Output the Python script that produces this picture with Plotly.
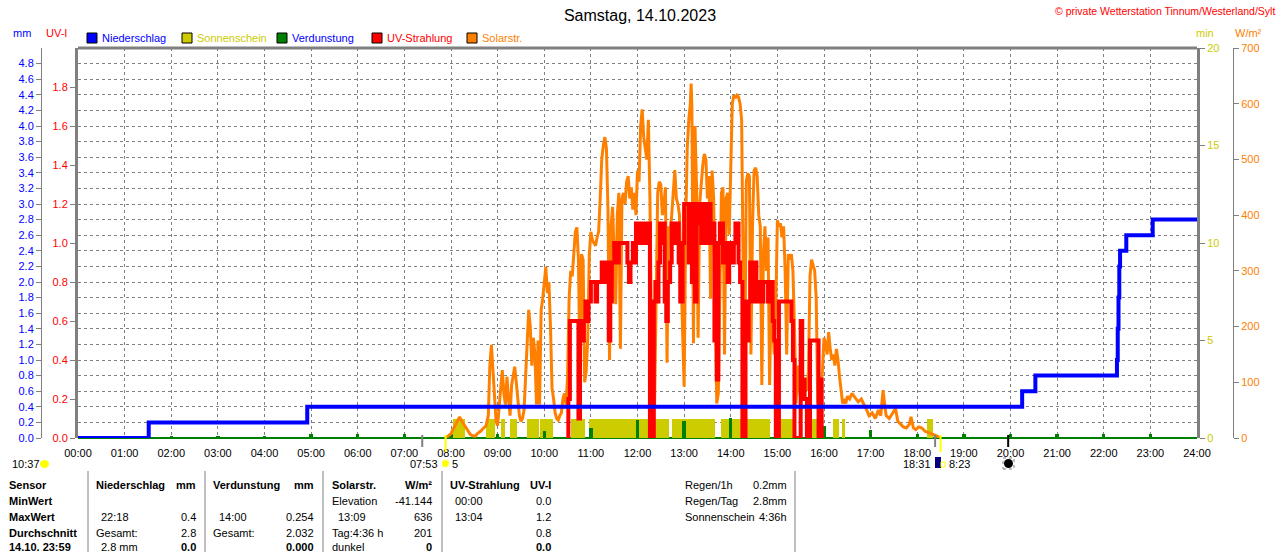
import plotly.graph_objects as go

W, H = 1280, 552
PLOT_L, PLOT_R, PLOT_T, PLOT_B = 78, 1197, 48, 438
FONT = "Liberation Sans, Arial, sans-serif"

BLUE = "#0000ff"
RED = "#ff0000"
ORANGE = "#ff8000"
SUN = "#cccc00"
GREEN = "#008000"
GRAY = "#808080"

# ---- data ----
hour_labels = ["%02d:00" % h for h in range(25)]

# Niederschlag, cumulative mm (step line)
rain_times = ["00:00", "01:31", "04:55", "20:15", "20:32", "22:17", "22:18",
              "22:19", "22:20", "22:21", "22:29", "23:03", "24:00"]
rain_mm = [0.0, 0.2, 0.4, 0.6, 0.8, 1.0, 1.4, 1.8, 2.2, 2.4, 2.6, 2.8, 2.8]

# Verdunstung, hourly mm
evap_times = ["01:00", "02:00", "03:00", "04:00", "05:00", "06:00", "07:00", "08:00",
              "09:00", "10:00", "11:00", "12:00", "13:00", "14:00", "15:00", "16:00",
              "17:00", "18:00", "19:00", "20:00", "21:00", "22:00", "23:00"]
evap_mm = [0.025, 0.025, 0.025, 0.025, 0.05, 0.05, 0.05, 0.05,
           0.05, 0.09, 0.13, 0.23, 0.22, 0.254, 0.2, 0.15,
           0.108, 0.05, 0.05, 0.05, 0.05, 0.05, 0.05]

# Sonnenschein intervals (minutes of sunshine per minute)
sun_start = ["08:03", "08:45", "09:04", "09:16", "09:38", "09:55", "10:34", "10:57",
             "12:20", "12:45", "13:47", "14:15", "15:01", "15:44", "16:11", "16:23", "18:12"]
sun_end = ["08:18", "08:57", "09:10", "09:25", "09:53", "10:11", "10:52", "12:16",
           "12:40", "13:40", "14:14", "14:50", "15:23", "15:59", "16:19", "16:27", "18:20"]
sun_min = [1] * len(sun_start)

# Solarstrahlung W/m²
solar_times = [
    "07:52", "07:56", "08:00", "08:04", "08:08", "08:11", "08:14", "08:18", "08:22", "08:25",
    "08:28", "08:31", "08:34", "08:38", "08:42", "08:45", "08:48", "08:50", "08:52", "08:54",
    "08:56", "08:58", "09:00", "09:02", "09:04", "09:06", "09:08", "09:10", "09:12", "09:14",
    "09:16", "09:18", "09:20", "09:22", "09:24", "09:26", "09:28", "09:30", "09:32", "09:34",
    "09:36", "09:38", "09:40", "09:42", "09:44", "09:46", "09:48", "09:50", "09:52", "09:54",
    "09:56", "09:58", "10:00", "10:02", "10:04", "10:06", "10:08", "10:10", "10:12", "10:14",
    "10:16", "10:18", "10:20", "10:22", "10:24", "10:26", "10:28", "10:30", "10:32", "10:34",
    "10:36", "10:38", "10:40", "10:42", "10:44", "10:46", "10:48", "10:50", "10:52", "10:54",
    "10:56", "10:58", "11:00", "11:02", "11:04", "11:06", "11:08", "11:10", "11:12", "11:14",
    "11:16", "11:18", "11:20", "11:22", "11:24", "11:26", "11:28", "11:30", "11:32", "11:34",
    "11:36", "11:38", "11:40", "11:42", "11:44", "11:46", "11:48", "11:50", "11:52", "11:54",
    "11:56", "11:58", "12:00", "12:02", "12:04", "12:06", "12:08", "12:10", "12:12", "12:14",
    "12:16", "12:18", "12:20", "12:22", "12:24", "12:26", "12:28", "12:30", "12:32", "12:34",
    "12:36", "12:38", "12:40", "12:42", "12:44", "12:46", "12:48", "12:50", "12:52", "12:54",
    "12:56", "12:58", "13:00", "13:02", "13:04", "13:06", "13:08", "13:09", "13:10", "13:12",
    "13:14", "13:16", "13:18", "13:20", "13:22", "13:24", "13:26", "13:28", "13:30", "13:32",
    "13:34", "13:36", "13:38", "13:40", "13:42", "13:44", "13:46", "13:48", "13:50", "13:52",
    "13:54", "13:56", "13:58", "14:00", "14:02", "14:04", "14:06", "14:08", "14:10", "14:12",
    "14:14", "14:16", "14:17", "14:18", "14:20", "14:22", "14:24", "14:26", "14:28", "14:30",
    "14:32", "14:34", "14:36", "14:38", "14:40", "14:42", "14:44", "14:46", "14:48", "14:50",
    "14:52", "14:54", "14:56", "14:58", "15:00", "15:02", "15:04", "15:06", "15:08", "15:10",
    "15:12", "15:14", "15:16", "15:18", "15:20", "15:22", "15:24", "15:26", "15:28", "15:30",
    "15:32", "15:34", "15:36", "15:38", "15:40", "15:42", "15:44", "15:46", "15:48", "15:50",
    "15:52", "15:54", "15:56", "15:58", "16:00", "16:02", "16:04", "16:06", "16:08", "16:10",
    "16:12", "16:14", "16:16", "16:18", "16:20", "16:22", "16:24", "16:26", "16:28", "16:30",
    "16:33", "16:36", "16:40", "16:44", "16:48", "16:52", "16:55", "16:58", "17:02", "17:06",
    "17:10", "17:13", "17:16", "17:18", "17:20", "17:24", "17:28", "17:32", "17:35", "17:38",
    "17:42", "17:46", "17:50", "17:52", "17:55", "17:58", "18:02", "18:06", "18:10", "18:14",
    "18:18", "18:22", "18:26", "18:29"]
solar_wm2 = [
    0, 3, 8, 18, 30, 38, 30, 22, 12, 6,
    4, 3, 8, 12, 18, 22, 40, 130, 167, 120,
    60, 30, 22, 50, 90, 122, 80, 60, 110, 70,
    40, 95, 115, 128, 100, 70, 40, 30, 35, 50,
    120, 180, 230, 200, 130, 180, 150, 60, 175, 60,
    230, 250, 280, 307, 260, 280, 200, 90, 70, 45,
    35, 32, 40, 45, 70, 80, 60, 110, 250, 300,
    290, 330, 370, 378, 320, 110, 330, 320, 100, 120,
    180, 330, 370, 355, 350, 345, 360, 370, 430, 500,
    525, 540, 520, 410, 140, 380, 415, 300, 240, 400,
    440, 160, 430, 440, 420, 460, 470, 430, 450, 410,
    440, 400, 480, 460, 560, 590, 540, 520, 500, 571,
    430, 200, 62, 62, 280, 440, 460, 455, 400, 420,
    450, 135, 380, 370, 400, 440, 481, 430, 420, 400,
    300, 200, 92, 380, 520, 571, 600, 636, 590, 170,
    560, 451, 180, 420, 460, 490, 510, 500, 430, 470,
    250, 480, 430, 200, 62, 80, 300, 440, 450, 150,
    430, 440, 365, 490, 600, 615, 610, 615, 612, 600,
    571, 300, 62, 120, 460, 475, 470, 150, 380, 480,
    485, 470, 400, 380, 95, 330, 380, 300, 360, 95,
    250, 200, 150, 240, 391, 380, 385, 360, 380, 300,
    150, 330, 320, 330, 300, 200, 62, 130, 90, 70,
    80, 75, 90, 85, 120, 290, 320, 310, 300, 250,
    62, 70, 100, 120, 180, 170, 150, 190, 160, 140,
    150, 130, 160, 140, 110, 80, 62, 70, 62, 75,
    70, 80, 72, 65, 70, 60, 50, 40, 45, 35,
    50, 40, 86, 60, 40, 35, 45, 53, 30, 25,
    20, 18, 25, 38, 18, 15, 20, 18, 12, 10,
    8, 5, 3, 0]

# UV-Strahlung UV-I (step line)
uv_times = [
    "10:30", "10:31", "10:33", "10:44", "10:46", "10:49", "10:51", "10:53", "10:55", "10:57",
    "11:00", "11:06", "11:08", "11:14", "11:19", "11:21", "11:23", "11:25", "11:27", "11:30",
    "11:34", "11:36", "11:47", "11:49", "11:51", "11:54", "11:56", "11:58", "12:03", "12:05",
    "12:10", "12:12", "12:16", "12:20", "12:21", "12:23", "12:25", "12:27", "12:29", "12:32",
    "12:34", "12:35", "12:37", "12:39", "12:42", "12:44", "12:48", "12:50", "12:53", "12:55",
    "12:58", "13:00", "13:04", "13:06", "13:08", "13:10", "13:12", "13:14", "13:16", "13:18",
    "13:22", "13:24", "13:26", "13:28", "13:30", "13:34", "13:37", "13:39", "13:42", "13:44",
    "13:46", "13:50", "13:52", "13:56", "13:58", "14:02", "14:04", "14:06", "14:10", "14:12",
    "14:15", "14:18", "14:19", "14:21", "14:23", "14:25", "14:28", "14:30", "14:33", "14:35",
    "14:40", "14:42", "14:48", "14:50", "14:54", "14:56", "14:58", "15:01", "15:02", "15:18",
    "15:20", "15:22", "15:29", "15:30", "15:32", "15:35", "15:38", "15:41", "15:42", "15:53",
    "15:55", "15:57", "15:59"]
uv_index = [
    0.0, 0.2, 0.6, 0.1, 0.6, 0.5, 0.6, 0.7, 0.6, 0.7,
    0.8, 0.7, 0.8, 0.9, 0.8, 0.9, 0.5, 0.7, 0.9, 1.0,
    0.9, 1.0, 0.9, 0.8, 0.9, 1.0, 0.9, 1.1, 1.0, 1.1,
    1.0, 1.1, 0.0, 0.0, 0.7, 0.8, 0.7, 0.9, 1.1, 1.0,
    1.1, 0.7, 0.6, 0.8, 0.9, 1.1, 1.0, 1.1, 0.9, 0.7,
    1.0, 1.2, 1.2, 0.9, 1.2, 0.8, 1.2, 0.7, 1.1, 1.2,
    1.0, 1.2, 1.1, 1.0, 1.2, 1.0, 1.1, 0.5, 0.3, 1.0,
    1.1, 0.9, 1.0, 0.8, 1.0, 0.9, 1.0, 1.1, 0.9, 0.8,
    0.0, 0.0, 0.7, 0.5, 0.7, 0.9, 0.7, 0.9, 0.7, 0.8,
    0.7, 0.8, 0.7, 0.8, 0.6, 0.5, 0.0, 0.0, 0.7, 0.6,
    0.4, 0.0, 0.0, 0.6, 0.3, 0.2, 0.0, 0.0, 0.5, 0.0,
    0.3, 0.0, 0.0]

# sun / moon events below the time axis
event_times = ["07:23", "07:53", "18:23", "18:30", "19:57"]
event_colors = [GRAY, "#ffff00", GRAY, "#ffff00", "black"]
event_len = [9, 14, 9, 14, 9]

# table below the chart
row_names = ["Sensor", "MinWert", "MaxWert", "Durchschnitt", "14.10. 23:59"]
rain_left = ["Niederschlag", "", "22:18", "Gesamt:", "2.8 mm"]
rain_right = ["mm", "", "0.4", "2.8", "0.0"]
evap_left = ["Verdunstung", "", "14:00", "Gesamt:", ""]
evap_right = ["mm", "", "0.254", "2.032", "0.000"]
solar_left = ["Solarstr.", "Elevation", "13:09", "Tag:4:36 h", "dunkel"]
solar_right = ["W/m²", "-41.144", "636", "201", "0"]
uv_left = ["UV-Strahlung", "00:00", "13:04", "", ""]
uv_right = ["UV-I", "0.0", "1.2", "0.8", "0.0"]
summary_names = ["Regen/1h", "Regen/Tag", "Sonnenschein"]
summary_values = ["0.2mm", "2.8mm", "4:36h"]


def hrs(t):
    h, m = t.split(":")
    return int(h) + int(m) / 60


def px(x):
    return x / W


def py(y):
    return (PLOT_B - y) / (PLOT_B - PLOT_T)


fig = go.Figure()

# sunshine bars (min axis, base layer)
fig.add_trace(go.Bar(
    x=[hrs(t) for t in sun_start], y=sun_min,
    width=[hrs(e) - hrs(s) for s, e in zip(sun_start, sun_end)], offset=0,
    marker=dict(color=SUN, line=dict(width=0)), yaxis="y", hoverinfo="skip"))

# evaporation spikes (mm axis)
fig.add_trace(go.Bar(
    x=[hrs(t) for t in evap_times], y=evap_mm, width=0.07, offset=-0.035,
    marker=dict(color=GREEN, line=dict(width=0)), yaxis="y2", hoverinfo="skip"))

# solar radiation
fig.add_trace(go.Scatter(
    x=[hrs(t) for t in solar_times], y=solar_wm2, mode="lines",
    line=dict(color=ORANGE, width=3), yaxis="y3", hoverinfo="skip"))

# UV index
fig.add_trace(go.Scatter(
    x=[hrs(t) for t in uv_times], y=uv_index, mode="lines",
    line=dict(color=RED, width=4, shape="hv"), yaxis="y4", hoverinfo="skip"))

# rain
fig.add_trace(go.Scatter(
    x=[hrs(t) for t in rain_times], y=rain_mm, mode="lines",
    line=dict(color=BLUE, width=4, shape="hv"), yaxis="y5", hoverinfo="skip"))

tick_font = dict(family=FONT, size=11)
dom = [px(PLOT_L), px(PLOT_R)]

fig.update_layout(
    width=W, height=H,
    margin=dict(l=0, r=0, t=PLOT_T, b=H - PLOT_B),
    paper_bgcolor="white", plot_bgcolor="white",
    showlegend=False, barmode="overlay", bargap=0,
    font=dict(family=FONT, size=11, color="black"),
    title=dict(text="Samstag, 14.10.2023", x=0.5, xanchor="center",
               y=1 - 15 / H, yanchor="middle",
               font=dict(family=FONT, size=16, color="black")),
    xaxis=dict(domain=dom, range=[0, 24], tickvals=list(range(25)), ticktext=hour_labels,
               showgrid=True, gridcolor=GRAY, griddash="3px,3px", gridwidth=1,
               zeroline=False, showline=False, ticks="", automargin=False,
               tickfont=dict(tick_font, color="black"), ticklabelstandoff=7),
    yaxis=dict(range=[0, 20], side="right", anchor="x", tickvals=[0, 5, 10, 15, 20],
               showgrid=False, zeroline=False, showline=True, linecolor=GRAY, linewidth=3,
               ticks="outside", ticklen=5, tickcolor=GRAY, automargin=False,
               tickfont=dict(tick_font, color=SUN)),
    yaxis2=dict(range=[0, 5], overlaying="y", anchor="free", position=px(41), side="left",
                tickvals=[round(i * 0.2, 1) for i in range(25)], tickformat=".1f",
                showgrid=True, gridcolor=GRAY, griddash="3px,3px", gridwidth=1,
                zeroline=True, zerolinecolor=GREEN, zerolinewidth=2,
                showline=True, linecolor=GRAY, linewidth=1,
                ticks="outside", ticklen=5, tickcolor=GRAY, automargin=False,
                tickfont=dict(tick_font, color=BLUE)),
    yaxis3=dict(range=[0, 700], overlaying="y", anchor="free", position=px(1233), side="right",
                tickvals=list(range(0, 701, 100)), showgrid=False, zeroline=False,
                showline=True, linecolor=GRAY, linewidth=1,
                ticks="outside", ticklen=5, tickcolor=GRAY, automargin=False,
                tickfont=dict(tick_font, color=ORANGE)),
    yaxis4=dict(range=[0, 2.0], overlaying="y", anchor="x", side="left",
                tickvals=[round(i * 0.2, 1) for i in range(10)], tickformat=".1f",
                showgrid=False, zeroline=False, showline=True, linecolor=GRAY, linewidth=3,
                ticks="outside", ticklen=5, tickcolor=GRAY, automargin=False,
                tickfont=dict(tick_font, color=RED)),
    yaxis5=dict(range=[0, 5], overlaying="y", visible=False),
)

shapes = []
annotations = []


def text(x, y, s, color="black", size=11, anchor="left", bold=False):
    if not s:
        return
    annotations.append(dict(
        x=px(x), y=py(y), xref="paper", yref="paper", showarrow=False,
        text="<b>%s</b>" % s if bold else s, xanchor=anchor, yanchor="middle",
        font=dict(family=FONT, size=size, color=color)))


# top frame
shapes.append(dict(type="line", xref="paper", yref="paper", x0=dom[0], x1=dom[1], y0=1, y1=1,
                   line=dict(color=GRAY, width=3)))

# header texts
text(1277, 11, "© private Wetterstation Tinnum/Westerland/Sylt", RED, 10.5, "right")
text(22, 33, "mm", BLUE, 11, "center")
text(56, 33, "UV-I", RED, 11, "center")
text(1205, 33, "min", SUN, 11, "center")
text(1248, 33, "W/m²", ORANGE, 11, "center")

# legend
legend_items = [("Niederschlag", BLUE, BLUE, 87), ("Sonnenschein", SUN, SUN, 182),
                ("Verdunstung", GREEN, BLUE, 277), ("UV-Strahlung", RED, RED, 372),
                ("Solarstr.", ORANGE, ORANGE, 467)]
for name, box, col, x0 in legend_items:
    shapes.append(dict(type="rect", xref="paper", yref="paper", x0=px(x0), x1=px(x0 + 10),
                       y0=py(43), y1=py(33), fillcolor=box, line=dict(color="black", width=1)))
    text(x0 + 13, 38, name, col, 11)

# event ticks below the axis
for t, c, ln in zip(event_times, event_colors, event_len):
    shapes.append(dict(type="line", xref="x", yref="paper", x0=hrs(t), x1=hrs(t),
                       y0=py(PLOT_B - 3), y1=py(PLOT_B + ln), line=dict(color=c, width=2)))

# sun / moon info
text(10, 464, "10:37")
shapes.append(dict(type="circle", xref="paper", yref="paper", x0=px(40), x1=px(49),
                   y0=py(468), y1=py(460), fillcolor="#ffff00", line=dict(width=0)))
text(440, 464, "07:53", anchor="right")
shapes.append(dict(type="circle", xref="paper", yref="paper", x0=px(442), x1=px(449),
                   y0=py(467), y1=py(460), fillcolor="#ffff00", line=dict(color="#ffff66", width=1)))
text(450, 464, "5")
text(933, 464, "18:31", anchor="right")
shapes.append(dict(type="rect", xref="paper", yref="paper", x0=px(935), x1=px(941),
                   y0=py(468), y1=py(457), fillcolor="#000080", line=dict(width=0)))
shapes.append(dict(type="rect", xref="paper", yref="paper", x0=px(941), x1=px(945),
                   y0=py(467), y1=py(462), fillcolor="white", line=dict(color="#ffff00", width=1)))
text(947, 464, "8:23")
shapes.append(dict(type="rect", xref="paper", yref="paper", x0=px(1003), x1=px(1014),
                   y0=py(469), y1=py(458), line=dict(color=GRAY, width=1, dash="dot")))
shapes.append(dict(type="circle", xref="paper", yref="paper", x0=px(1004), x1=px(1013),
                   y0=py(468), y1=py(459), fillcolor="black", line=dict(width=0)))

# table
for xs in [88, 205, 323, 442, 795]:
    shapes.append(dict(type="line", xref="paper", yref="paper", x0=px(xs), x1=px(xs),
                       y0=py(471), y1=py(H), line=dict(color=GRAY, width=1)))

row_y = [485, 501, 517, 533, 547]
for i, y in enumerate(row_y):
    head = i == 0
    last = i == 4
    text(7, y, row_names[i], bold=True)
    text(94 if i in (0, 3) else 99, y, rain_left[i], bold=head)
    text(198, y, rain_right[i], anchor="right", bold=head or last)
    text(211 if i in (0, 3) else 217, y, evap_left[i], bold=head)
    text(316, y, evap_right[i], anchor="right", bold=head or last)
    text(336 if i == 2 else 330, y, solar_left[i], bold=head)
    text(434, y, solar_right[i], anchor="right", bold=head or last)
    text(448 if head else 453, y, uv_left[i], bold=head)
    text(553, y, uv_right[i], anchor="right", bold=head or last)

for i, (n, v) in enumerate(zip(summary_names, summary_values)):
    text(683, row_y[i], n)
    text(789, row_y[i], v, anchor="right")

fig.update_layout(shapes=shapes, annotations=annotations)

# the page is photographed at 1280x552, so drop the default body margin
fig.write_html("out.html", config={"displayModeBar": False},
               post_script="document.body.style.margin='0';")
